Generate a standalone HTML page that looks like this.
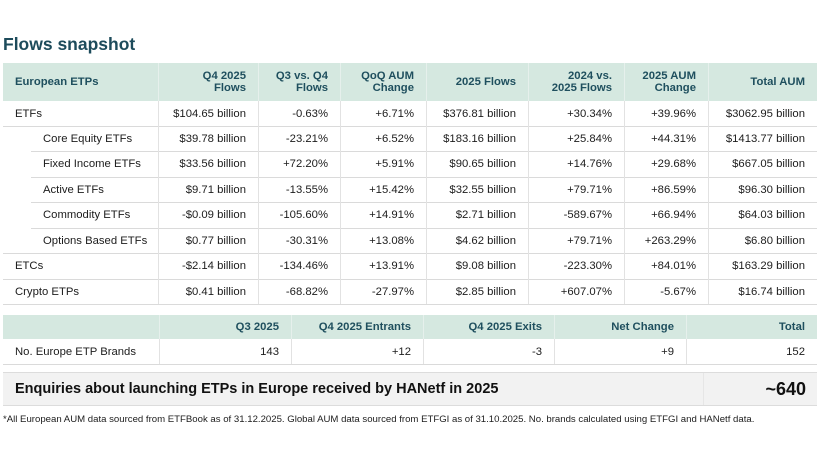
<!DOCTYPE html>
<html><head><meta charset="utf-8"><style>
*{margin:0;padding:0;box-sizing:border-box}
html,body{width:820px;height:461px;background:#fff;overflow:hidden}
body{position:relative;font-family:"Liberation Sans",Arial,sans-serif;color:#1c1c1c}
.a{position:absolute}
.c{position:absolute;display:flex;align-items:center;justify-content:flex-end;padding-right:12px;white-space:nowrap;font-size:11.3px}
.l{justify-content:flex-start;padding-left:12px;padding-right:0}
.i{padding-left:40px}
.h{font-weight:bold;color:#1f4f5e;font-size:11.3px;text-align:right;line-height:12.3px}
.hl{position:absolute;height:1px;background:#dadada}
.vl{position:absolute;width:1px;background:#e2e2e2}
.hv{position:absolute;width:1px;background:#e6f0ec}
</style></head><body>
<div class="a" style="left:3px;top:34px;font-size:17.5px;line-height:20px;font-weight:bold;color:#1d4b5b">Flows snapshot</div>

<div class="a" style="left:3px;top:63px;width:814px;height:38px;background:#d5e8e0"></div>
<div class="hv" style="left:158px;top:63px;height:38px"></div>
<div class="hv" style="left:258px;top:63px;height:38px"></div>
<div class="hv" style="left:340px;top:63px;height:38px"></div>
<div class="hv" style="left:426px;top:63px;height:38px"></div>
<div class="hv" style="left:528px;top:63px;height:38px"></div>
<div class="hv" style="left:624px;top:63px;height:38px"></div>
<div class="hv" style="left:708px;top:63px;height:38px"></div>
<div class="c l h" style="left:3px;top:63px;width:155px;height:38px;text-align:left">European ETPs</div>
<div class="c h" style="left:158px;top:63px;width:100px;height:38px">Q4 2025<br>Flows</div>
<div class="c h" style="left:258px;top:63px;width:82px;height:38px">Q3 vs. Q4<br>Flows</div>
<div class="c h" style="left:340px;top:63px;width:86px;height:38px">QoQ AUM<br>Change</div>
<div class="c h" style="left:426px;top:63px;width:102px;height:38px">2025 Flows</div>
<div class="c h" style="left:528px;top:63px;width:96px;height:38px">2024 vs.<br>2025 Flows</div>
<div class="c h" style="left:624px;top:63px;width:84px;height:38px">2025 AUM<br>Change</div>
<div class="c h" style="left:708px;top:63px;width:109px;height:38px">Total AUM</div>

<div class="hl" style="left:3px;top:126px;width:814px"></div>
<div class="hl" style="left:31px;top:151px;width:786px"></div>
<div class="hl" style="left:31px;top:177px;width:786px"></div>
<div class="hl" style="left:31px;top:202px;width:786px"></div>
<div class="hl" style="left:31px;top:228px;width:786px"></div>
<div class="hl" style="left:3px;top:253px;width:814px"></div>
<div class="hl" style="left:3px;top:279px;width:814px"></div>
<div class="hl" style="left:3px;top:304px;width:814px"></div>
<div class="vl" style="left:158px;top:101px;height:203px"></div>
<div class="vl" style="left:258px;top:101px;height:203px"></div>
<div class="vl" style="left:340px;top:101px;height:203px"></div>
<div class="vl" style="left:426px;top:101px;height:203px"></div>
<div class="vl" style="left:528px;top:101px;height:203px"></div>
<div class="vl" style="left:624px;top:101px;height:203px"></div>
<div class="vl" style="left:708px;top:101px;height:203px"></div>

<div class="c l" style="left:3px;top:101px;width:155px;height:25px">ETFs</div>
<div class="c" style="left:158px;top:101px;width:100px;height:25px">$104.65 billion</div>
<div class="c" style="left:258px;top:101px;width:82px;height:25px">-0.63%</div>
<div class="c" style="left:340px;top:101px;width:86px;height:25px">+6.71%</div>
<div class="c" style="left:426px;top:101px;width:102px;height:25px">$376.81 billion</div>
<div class="c" style="left:528px;top:101px;width:96px;height:25px">+30.34%</div>
<div class="c" style="left:624px;top:101px;width:84px;height:25px">+39.96%</div>
<div class="c" style="left:708px;top:101px;width:109px;height:25px">$3062.95 billion</div>

<div class="c l i" style="left:3px;top:126px;width:155px;height:25px">Core Equity ETFs</div>
<div class="c" style="left:158px;top:126px;width:100px;height:25px">$39.78 billion</div>
<div class="c" style="left:258px;top:126px;width:82px;height:25px">-23.21%</div>
<div class="c" style="left:340px;top:126px;width:86px;height:25px">+6.52%</div>
<div class="c" style="left:426px;top:126px;width:102px;height:25px">$183.16 billion</div>
<div class="c" style="left:528px;top:126px;width:96px;height:25px">+25.84%</div>
<div class="c" style="left:624px;top:126px;width:84px;height:25px">+44.31%</div>
<div class="c" style="left:708px;top:126px;width:109px;height:25px">$1413.77 billion</div>

<div class="c l i" style="left:3px;top:151px;width:155px;height:26px">Fixed Income ETFs</div>
<div class="c" style="left:158px;top:151px;width:100px;height:26px">$33.56 billion</div>
<div class="c" style="left:258px;top:151px;width:82px;height:26px">+72.20%</div>
<div class="c" style="left:340px;top:151px;width:86px;height:26px">+5.91%</div>
<div class="c" style="left:426px;top:151px;width:102px;height:26px">$90.65 billion</div>
<div class="c" style="left:528px;top:151px;width:96px;height:26px">+14.76%</div>
<div class="c" style="left:624px;top:151px;width:84px;height:26px">+29.68%</div>
<div class="c" style="left:708px;top:151px;width:109px;height:26px">$667.05 billion</div>

<div class="c l i" style="left:3px;top:177px;width:155px;height:25px">Active ETFs</div>
<div class="c" style="left:158px;top:177px;width:100px;height:25px">$9.71 billion</div>
<div class="c" style="left:258px;top:177px;width:82px;height:25px">-13.55%</div>
<div class="c" style="left:340px;top:177px;width:86px;height:25px">+15.42%</div>
<div class="c" style="left:426px;top:177px;width:102px;height:25px">$32.55 billion</div>
<div class="c" style="left:528px;top:177px;width:96px;height:25px">+79.71%</div>
<div class="c" style="left:624px;top:177px;width:84px;height:25px">+86.59%</div>
<div class="c" style="left:708px;top:177px;width:109px;height:25px">$96.30 billion</div>

<div class="c l i" style="left:3px;top:202px;width:155px;height:26px">Commodity ETFs</div>
<div class="c" style="left:158px;top:202px;width:100px;height:26px">-$0.09 billion</div>
<div class="c" style="left:258px;top:202px;width:82px;height:26px">-105.60%</div>
<div class="c" style="left:340px;top:202px;width:86px;height:26px">+14.91%</div>
<div class="c" style="left:426px;top:202px;width:102px;height:26px">$2.71 billion</div>
<div class="c" style="left:528px;top:202px;width:96px;height:26px">-589.67%</div>
<div class="c" style="left:624px;top:202px;width:84px;height:26px">+66.94%</div>
<div class="c" style="left:708px;top:202px;width:109px;height:26px">$64.03 billion</div>

<div class="c l i" style="left:3px;top:228px;width:155px;height:25px">Options Based ETFs</div>
<div class="c" style="left:158px;top:228px;width:100px;height:25px">$0.77 billion</div>
<div class="c" style="left:258px;top:228px;width:82px;height:25px">-30.31%</div>
<div class="c" style="left:340px;top:228px;width:86px;height:25px">+13.08%</div>
<div class="c" style="left:426px;top:228px;width:102px;height:25px">$4.62 billion</div>
<div class="c" style="left:528px;top:228px;width:96px;height:25px">+79.71%</div>
<div class="c" style="left:624px;top:228px;width:84px;height:25px">+263.29%</div>
<div class="c" style="left:708px;top:228px;width:109px;height:25px">$6.80 billion</div>

<div class="c l" style="left:3px;top:253px;width:155px;height:26px">ETCs</div>
<div class="c" style="left:158px;top:253px;width:100px;height:26px">-$2.14 billion</div>
<div class="c" style="left:258px;top:253px;width:82px;height:26px">-134.46%</div>
<div class="c" style="left:340px;top:253px;width:86px;height:26px">+13.91%</div>
<div class="c" style="left:426px;top:253px;width:102px;height:26px">$9.08 billion</div>
<div class="c" style="left:528px;top:253px;width:96px;height:26px">-223.30%</div>
<div class="c" style="left:624px;top:253px;width:84px;height:26px">+84.01%</div>
<div class="c" style="left:708px;top:253px;width:109px;height:26px">$163.29 billion</div>

<div class="c l" style="left:3px;top:279px;width:155px;height:25px">Crypto ETPs</div>
<div class="c" style="left:158px;top:279px;width:100px;height:25px">$0.41 billion</div>
<div class="c" style="left:258px;top:279px;width:82px;height:25px">-68.82%</div>
<div class="c" style="left:340px;top:279px;width:86px;height:25px">-27.97%</div>
<div class="c" style="left:426px;top:279px;width:102px;height:25px">$2.85 billion</div>
<div class="c" style="left:528px;top:279px;width:96px;height:25px">+607.07%</div>
<div class="c" style="left:624px;top:279px;width:84px;height:25px">-5.67%</div>
<div class="c" style="left:708px;top:279px;width:109px;height:25px">$16.74 billion</div>

<div class="a" style="left:3px;top:315px;width:814px;height:24px;background:#d5e8e0"></div>
<div class="hv" style="left:159px;top:315px;height:24px"></div>
<div class="hv" style="left:291px;top:315px;height:24px"></div>
<div class="hv" style="left:423px;top:315px;height:24px"></div>
<div class="hv" style="left:554px;top:315px;height:24px"></div>
<div class="hv" style="left:686px;top:315px;height:24px"></div>
<div class="c h" style="left:159px;top:315px;width:132px;height:24px">Q3 2025</div>
<div class="c h" style="left:291px;top:315px;width:132px;height:24px">Q4 2025 Entrants</div>
<div class="c h" style="left:423px;top:315px;width:131px;height:24px">Q4 2025 Exits</div>
<div class="c h" style="left:554px;top:315px;width:132px;height:24px">Net Change</div>
<div class="c h" style="left:686px;top:315px;width:131px;height:24px">Total</div>
<div class="hl" style="left:3px;top:364px;width:814px"></div>
<div class="vl" style="left:159px;top:339px;height:25px"></div>
<div class="vl" style="left:291px;top:339px;height:25px"></div>
<div class="vl" style="left:423px;top:339px;height:25px"></div>
<div class="vl" style="left:554px;top:339px;height:25px"></div>
<div class="vl" style="left:686px;top:339px;height:25px"></div>
<div class="c l" style="left:3px;top:339px;width:156px;height:25px">No. Europe ETP Brands</div>
<div class="c" style="left:159px;top:339px;width:132px;height:25px">143</div>
<div class="c" style="left:291px;top:339px;width:132px;height:25px">+12</div>
<div class="c" style="left:423px;top:339px;width:131px;height:25px">-3</div>
<div class="c" style="left:554px;top:339px;width:132px;height:25px">+9</div>
<div class="c" style="left:686px;top:339px;width:131px;height:25px">152</div>

<div class="a" style="left:3px;top:372px;width:814px;height:34px;background:#f2f2f2;border-top:1px solid #dcdcdc;border-bottom:1px solid #dcdcdc"></div>
<div class="vl" style="left:703px;top:373px;height:32px;background:#e6e6e6"></div>
<div class="c l" style="left:3px;top:372px;width:700px;height:34px;font-size:14.5px;font-weight:bold;color:#111">Enquiries about launching ETPs in Europe received by HANetf in 2025</div>
<div class="c" style="left:703px;top:372px;width:114px;height:34px;font-size:18px;font-weight:bold;color:#111;padding-right:11px">~640</div>

<div class="a" style="left:3px;top:413px;font-size:9.6px;line-height:14px;white-space:nowrap;color:#1c1c1c">*All European AUM data sourced from ETFBook as of 31.12.2025. Global AUM data sourced from ETFGI as of 31.10.2025. No. brands calculated using ETFGI and HANetf data.</div>
</body></html>
